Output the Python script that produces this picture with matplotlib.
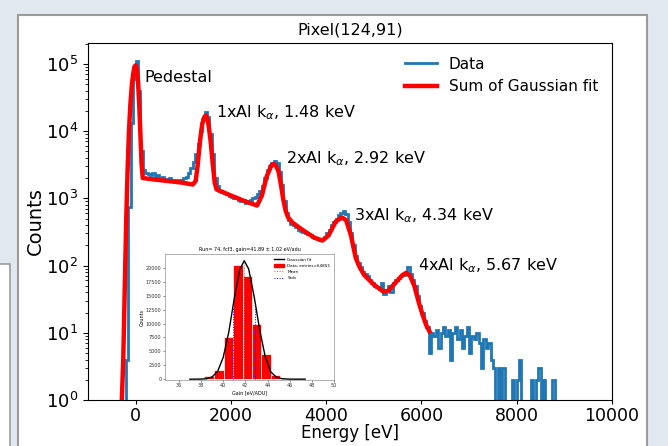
import numpy as np
import matplotlib.pyplot as plt
from matplotlib.patches import Rectangle
from matplotlib.lines import Line2D

# measured spectrum, 50 eV bins starting at -300 eV
bin_start = -300
bin_width = 50
counts = [
    0, 0, 4, 750, 13000, 60000,
    110000, 40000, 5000, 2600, 2400, 2300, 2200, 2350, 2100, 2200,
    2000, 2100, 1950, 1900, 2000, 1850, 1800, 1900, 1800, 1900,
    2000, 2100, 2400, 2800, 3500, 4500, 6500, 10000, 15000, 19000,
    16000, 9000, 4500, 2000, 1500, 1300, 1250, 1200, 1150, 1100,
    1050, 1000, 1000, 950, 900, 950, 850, 900, 950, 1000,
    1050, 1150, 1300, 1500, 2000, 2600, 3000, 3300, 3600, 3400,
    2500, 1600, 900, 600, 480, 420, 400, 380, 340, 330,
    320, 300, 290, 280, 270, 260, 250, 240, 250, 270,
    300, 340, 400, 450, 500, 560, 600, 640, 580, 450,
    300, 200, 140, 110, 95, 80, 75, 70, 60, 55,
    50, 48, 45, 55, 38, 42, 50, 40, 55, 60,
    65, 70, 72, 75, 95, 75, 60, 50, 35, 25,
    20, 15, 12, 5, 10, 9, 11, 6, 10, 12,
    9, 11, 4, 10, 12, 8, 11, 6, 9, 12,
    5, 9, 8, 10, 7, 3, 8, 6, 7, 4,
    3, 0, 3, 0, 3, 0, 0, 0, 2, 0,
    2, 4, 0, 0, 0, 0, 2, 0, 2, 3,
    0, 2, 0, 0, 0, 2, 0, 0,
]

# sum of gaussian fit
fit_e = [-290, -260, -230, -200, -170, -140, -110, -80, -50, -25, 0, 25, 50, 75,
         100, 125, 150, 400, 700, 1000, 1200, 1260, 1300, 1350, 1400, 1450, 1480,
         1520, 1570, 1620, 1660, 1700, 2000, 2300, 2550, 2650, 2750, 2850, 2900,
         2950, 3000, 3050, 3100, 3150, 3200, 3300, 3500, 3750, 3920, 4050, 4200,
         4330, 4420, 4520, 4620, 4700, 4800, 5000, 5200, 5300, 5450, 5600, 5680,
         5760, 5850, 5958, 6030, 6100, 6168]
fit_c = [1, 4, 40, 400, 2500, 10000, 25000, 48000, 72000, 90000, 95000, 85000, 55000, 25000,
         9000, 3200, 2000, 1900, 1800, 1700, 1600, 1800, 3000, 7000, 13000, 16500, 17000,
         14000, 7500, 3200, 1700, 1350, 1100, 900, 780, 1100, 2100, 3100, 3250,
         3000, 2500, 1600, 950, 650, 520, 430, 340, 260, 235, 280, 450,
         520, 470, 280, 130, 95, 72, 52, 41, 42, 55, 72, 78,
         70, 50, 26, 18, 13, 10.5]

peak_labels = ["Pedestal", r"1xAl k$_{\alpha}$, 1.48 keV", r"2xAl k$_{\alpha}$, 2.92 keV",
               r"3xAl k$_{\alpha}$, 4.34 keV", r"4xAl k$_{\alpha}$, 5.67 keV"]
label_e = [190, 1690, 3150, 4590, 5920]
label_c = [62000, 19000, 3900, 560, 100]

# inset: gain distribution
gain_edges = [38.3, 39.2, 40.05, 40.9, 41.75, 42.6, 43.45, 44.3, 45.15]
gain_counts = [500, 1700, 7600, 20500, 18600, 10000, 4500, 700]
gfit_x = [37.0, 38.0, 38.5, 39.0, 39.5, 40.0, 40.5, 41.0, 41.5, 41.9, 42.3, 42.8,
          43.3, 43.8, 44.3, 44.8, 45.3, 46.0, 47.4]
gfit_y = [0, 15, 90, 400, 1400, 3900, 8400, 14500, 19700, 21300, 19800, 14800,
          8800, 4000, 1300, 370, 80, 5, 0]
gain_mean = 41.89
gain_std = 1.02

W, H = 668, 446
fig = plt.figure(figsize=(W / 100, H / 100), dpi=100)
fig.patch.set_facecolor('#e1e8f0')

# white panel of the screenshot
fig.add_artist(Rectangle((18 / W, -0.1), (647 - 18) / W, (H - 15) / H + 0.1,
                         transform=fig.transFigure, facecolor='white',
                         edgecolor='#9c9c9c', lw=1.5, zorder=0))
fig.add_artist(Rectangle((-0.05, -0.1), 0.05 + 10 / W, (H - 264) / H + 0.1,
                         transform=fig.transFigure, facecolor='white',
                         edgecolor='#9c9c9c', lw=1.2, zorder=0))

ax = fig.add_axes([88 / W, (H - 400) / H, (612 - 88) / W, (400 - 43) / H])
edges = bin_start + bin_width * np.arange(len(counts) + 1)
ax.stairs(counts, edges, color='#1f77b4', lw=2.0, baseline=None, label='Data')
ax.plot(fit_e, fit_c, color='red', lw=3.2, label='Sum of Gaussian fit')
ax.set_yscale('log')
ax.set_xlim(-1000, 10000)
ax.set_ylim(1, 2.04e5)
ax.set_xticks([0, 2000, 4000, 6000, 8000, 10000])
ax.tick_params(labelsize=13)
ax.tick_params(axis='x', labelsize=12.5, length=3, pad=2)
ax.set_xlabel('Energy [eV]', fontsize=12, labelpad=-0.5)
ax.set_ylabel('Counts', fontsize=14, labelpad=1)
ax.set_title('Pixel(124,91)', fontsize=11.5, pad=6)

for txt, e, c in zip(peak_labels, label_e, label_c):
    ax.text(e, c, txt, fontsize=11.5, ha='left', va='center')

ax.legend(loc='upper right', frameon=False, fontsize=11, handlelength=2.1)

# inset
ax_in = fig.add_axes([165 / W, (H - 380) / H, (334 - 165) / W, (380 - 254) / H])
ax_in.bar(gain_edges[:-1], gain_counts, width=np.diff(gain_edges), align='edge',
          color='red', edgecolor='white', lw=0.5)
ax_in.plot(gfit_x, gfit_y, color='black', lw=1.0)
ax_in.vlines(gain_mean, 0, max(gfit_y), colors='gray', linestyles=':', lw=0.7)
ax_in.vlines([gain_mean - gain_std, gain_mean + gain_std], 0, [13000, 13000],
             colors='blue', linestyles=':', lw=0.7)
ax_in.set_xlim(34.75, 50)
ax_in.set_ylim(-150, 22500)
ax_in.set_xticks(range(36, 51, 2))
ax_in.set_yticks(range(0, 20001, 2500))
ax_in.tick_params(labelsize=3.5, length=1.5, width=0.4, pad=1, colors='#333333')
for s in ax_in.spines.values():
    s.set_linewidth(0.4)
    s.set_color('#777777')
ax_in.set_xlabel('Gain [eV/ADU]', fontsize=3.5, labelpad=1)
ax_in.set_ylabel('Counts', fontsize=3.5, labelpad=1)
ax_in.set_title('Run= 74, fcf3, gain=41.89 ± 1.02 eV/adu', fontsize=3.5, pad=2)
handles = [Line2D([], [], color='black', lw=1.0),
           Rectangle((0, 0), 1, 1, color='red'),
           Line2D([], [], color='gray', ls=':', lw=0.7),
           Line2D([], [], color='blue', ls=':', lw=0.7)]
ax_in.legend(handles, ['Gaussian fit', 'Data, entries=64855', 'Mean', 'Stdv'],
             loc='upper right', fontsize=3, frameon=False, handlelength=2.5)

fig.savefig('out.png', dpi=100, facecolor=fig.get_facecolor())
